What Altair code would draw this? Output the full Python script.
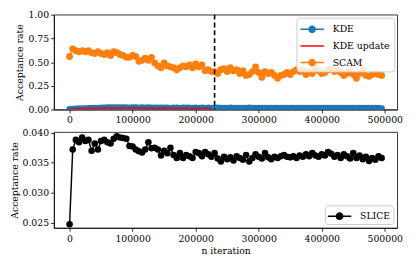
import altair as alt
import pandas as pd

iters = list(range(0, 500000, 5000))

scam = [0.56, 0.64, 0.62, 0.61, 0.62, 0.61, 0.62, 0.60, 0.59, 0.61,
        0.59, 0.58, 0.60, 0.57, 0.61, 0.60, 0.58, 0.57, 0.55, 0.55,
        0.57, 0.56, 0.51, 0.52, 0.54, 0.52, 0.55, 0.49, 0.46, 0.44,
        0.49, 0.46, 0.45, 0.44, 0.42, 0.44, 0.46, 0.45, 0.47, 0.44,
        0.48, 0.45, 0.47, 0.41, 0.42, 0.40, 0.40, 0.38, 0.42, 0.43,
        0.40, 0.44, 0.41, 0.42, 0.38, 0.41, 0.36, 0.37, 0.40, 0.45,
        0.39, 0.34, 0.40, 0.38, 0.39, 0.36, 0.33, 0.36, 0.37, 0.39,
        0.37, 0.40, 0.42, 0.40, 0.41, 0.37, 0.40, 0.38, 0.43, 0.41,
        0.38, 0.39, 0.42, 0.43, 0.40, 0.41, 0.39, 0.36, 0.38, 0.40,
        0.37, 0.33, 0.38, 0.42, 0.36, 0.35, 0.37, 0.38, 0.37, 0.36]

kde = [0.004, 0.006, 0.008, 0.010, 0.011, 0.012, 0.013, 0.015, 0.016, 0.017,
       0.018, 0.019, 0.020, 0.021, 0.020, 0.022, 0.021, 0.020, 0.021, 0.019,
       0.020, 0.021, 0.019, 0.020, 0.018, 0.020, 0.019, 0.018, 0.019, 0.018,
       0.019, 0.018, 0.017, 0.018, 0.019, 0.017, 0.018, 0.019, 0.018, 0.017,
       0.018, 0.017, 0.018, 0.017, 0.018, 0.017, 0.017, 0.018, 0.017, 0.016,
       0.017, 0.018, 0.017, 0.016, 0.017, 0.016, 0.017, 0.018, 0.017, 0.016,
       0.017, 0.016, 0.017, 0.016, 0.017, 0.016, 0.017, 0.016, 0.016, 0.017,
       0.016, 0.017, 0.016, 0.016, 0.017, 0.016, 0.016, 0.017, 0.016, 0.016,
       0.017, 0.016, 0.016, 0.017, 0.016, 0.016, 0.017, 0.016, 0.016, 0.017,
       0.016, 0.016, 0.017, 0.016, 0.016, 0.017, 0.016, 0.016, 0.015, 0.012]

kde_update = [0.002, 0.005, 0.008, 0.010, 0.012, 0.011, 0.013, 0.012, 0.014, 0.015,
              0.013, 0.016, 0.014, 0.018, 0.015, 0.017, 0.014, 0.018, 0.015, 0.016,
              0.014, 0.017, 0.013, 0.016, 0.015, 0.014, 0.017, 0.013, 0.015, 0.014,
              0.016, 0.013, 0.015, 0.012, 0.014, 0.015, 0.013, 0.014, 0.012, 0.015,
              0.013, 0.014, 0.012, 0.013, 0.011, 0.012]

slice_rate = [0.0248, 0.0372, 0.0388, 0.0384, 0.0392, 0.0386, 0.0388, 0.0370, 0.0382, 0.0372,
              0.0386, 0.0388, 0.0384, 0.0382, 0.0390, 0.0394, 0.0392, 0.0391, 0.0390, 0.0378,
              0.0377, 0.0372, 0.0369, 0.0367, 0.0372, 0.0384, 0.0374, 0.0375, 0.0372, 0.0362,
              0.0370, 0.0366, 0.0375, 0.0363, 0.0358, 0.0366, 0.0358, 0.0363, 0.0361, 0.0358,
              0.0368, 0.0366, 0.0361, 0.0368, 0.0364, 0.0360, 0.0366, 0.0357, 0.0352, 0.0360,
              0.0356, 0.0359, 0.0354, 0.0361, 0.0358, 0.0355, 0.0363, 0.0352, 0.0358, 0.0364,
              0.0360, 0.0357, 0.0366, 0.0359, 0.0356, 0.0360, 0.0358, 0.0361, 0.0363, 0.0360,
              0.0359, 0.0361, 0.0358, 0.0362, 0.0360, 0.0364, 0.0361, 0.0366, 0.0362, 0.0360,
              0.0364, 0.0362, 0.0368, 0.0365, 0.0360, 0.0363, 0.0358, 0.0364, 0.0361, 0.0357,
              0.0366, 0.0358, 0.0362, 0.0356, 0.0360, 0.0353, 0.0358, 0.0355, 0.0361, 0.0358]

split_iter = 230000
x_ticks = [0, 100000, 200000, 300000, 400000, 500000]
top_series = ["KDE", "KDE update", "SCAM"]
top_colors = ["#1f77b4", "#ff0000", "#ff7f0e"]

top_df = pd.concat([
    pd.DataFrame({"iter": iters, "rate": kde, "series": "KDE"}),
    pd.DataFrame({"iter": iters[:len(kde_update)], "rate": kde_update, "series": "KDE update"}),
    pd.DataFrame({"iter": iters, "rate": scam, "series": "SCAM"}),
])
bot_df = pd.DataFrame({"iter": iters, "rate": slice_rate, "series": "SLICE"})

FONT = "'DejaVu Serif', 'Liberation Serif', serif"
FS = 9.5

line_path = "M-1,-0.094L2,-0.094L2,0.094L-1,0.094Z"
lm_path = line_path + "M1,0A0.5,0.5 0 1,1 0,0A0.5,0.5 0 1,1 1,0Z"

xscale = alt.Scale(domain=[-24750, 519750], nice=False, zero=False)


def xenc(title):
    return alt.X("iter:Q", scale=xscale,
                 axis=alt.Axis(values=x_ticks, format="d", title=title, grid=False))


top_legend = alt.Legend(
    title=None, orient="top-right", offset=3, symbolSize=256, labelOffset=17,
    padding=4, rowPadding=4,
    symbolType={"expr": "datum.value === 'KDE update' ? '" + line_path + "' : '" + lm_path + "'"},
    symbolFillColor={"expr": "datum.value === 'KDE' ? '#1f77b4' : datum.value === 'KDE update' ? '#ff0000' : '#ff7f0e'"},
    symbolStrokeWidth=0, symbolOpacity=1)

cscale = alt.Scale(domain=top_series, range=top_colors)
ytop = alt.Y("rate:Q", scale=alt.Scale(domain=[0, 1], nice=False),
             axis=alt.Axis(values=[0, 0.25, 0.5, 0.75, 1.0], format=".2f",
                           title="Acceptance rate", grid=False))

base = alt.Chart(top_df)
kde_layer = base.transform_filter(alt.datum.series == "KDE").mark_line(
    strokeWidth=1.5, clip=True, point=alt.OverlayMarkDef(filled=True, size=45, clip=True)
).encode(x=xenc(None), y=ytop, color=alt.Color("series:N", scale=cscale, legend=top_legend))
upd_layer = base.transform_filter(alt.datum.series == "KDE update").mark_line(
    strokeWidth=1.5, clip=True
).encode(x=xenc(None), y=ytop, color=alt.Color("series:N", scale=cscale, legend=top_legend))
scam_layer = base.transform_filter(alt.datum.series == "SCAM").mark_line(
    strokeWidth=1.5, clip=True, point=alt.OverlayMarkDef(filled=True, size=50, clip=True)
).encode(x=xenc(None), y=ytop, color=alt.Color("series:N", scale=cscale, legend=top_legend))
rule = alt.Chart(pd.DataFrame({"iter": [split_iter]})).mark_rule(
    color="black", strokeDash=[5, 3], strokeWidth=1.6
).encode(x=alt.X("iter:Q", scale=xscale))

top = alt.layer(kde_layer, upd_layer, scam_layer, rule).properties(width=351, height=97)

bot_legend = alt.Legend(
    title=None, orient="bottom-right", offset=4, symbolSize=256, labelOffset=17,
    padding=3, symbolType=lm_path, symbolFillColor="black",
    symbolStrokeWidth=0, symbolOpacity=1)

bottom = alt.Chart(bot_df).mark_line(
    strokeWidth=1.5, clip=True, point=alt.OverlayMarkDef(filled=True, size=45)
).encode(
    x=xenc("n iteration"),
    y=alt.Y("rate:Q", scale=alt.Scale(domain=[0.0242, 0.0401], nice=False, zero=False),
            axis=alt.Axis(values=[0.025, 0.030, 0.035, 0.040], format=".3f",
                          title="Acceptance rate", grid=False)),
    color=alt.Color("series:N", scale=alt.Scale(domain=["SLICE"], range=["black"]),
                    legend=bot_legend),
).properties(width=351, height=98)

chart = alt.vconcat(top, bottom, spacing=2).resolve_scale(color="independent").properties(
    padding={"left": 0, "top": -2, "right": 5, "bottom": 2}
).configure_axis(
    labelFont=FONT, labelFontSize=FS, titleFont=FONT, titleFontSize=FS,
    titleFontWeight="normal", labelColor="black", titleColor="black",
    tickColor="black", domainColor="black", tickSize=3.5, tickWidth=0.8,
    domainWidth=0.8, labelPadding=2, titlePadding=3,
).configure_view(stroke="black", strokeWidth=0.8).configure_legend(
    labelFont=FONT, labelFontSize=FS, labelColor="black",
    fillColor="rgba(255,255,255,0.8)", strokeColor="#cccccc", cornerRadius=3,
)

chart.save("out.html", embed_options={"renderer": "svg", "actions": False})
